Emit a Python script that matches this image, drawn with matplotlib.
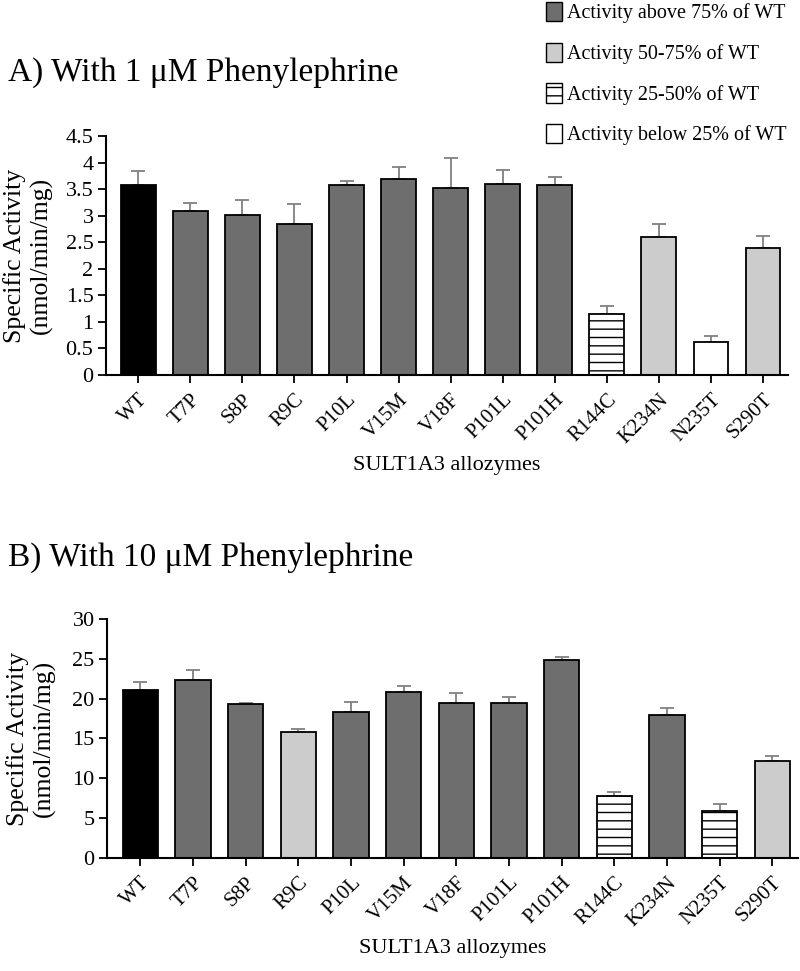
import matplotlib
matplotlib.use("Agg")
import matplotlib.pyplot as plt
from matplotlib.patches import Patch
import numpy as np

plt.rcParams['font.family'] = ['Liberation Serif', 'DejaVu Serif']
plt.rcParams['hatch.linewidth'] = 1.0

categories = ["WT", "T7P", "S8P", "R9C", "P10L", "V15M", "V18F", "P101L",
              "P101H", "R144C", "K234N", "N235T", "S290T"]

vals_a = [3.57, 3.09, 3.02, 2.84, 3.58, 3.69, 3.52, 3.59, 3.58, 1.15, 2.59, 0.62, 2.40]
err_a = [0.27, 0.14, 0.27, 0.37, 0.08, 0.23, 0.56, 0.27, 0.14, 0.14, 0.26, 0.11, 0.21]
class_a = ["wt", "high", "high", "high", "high", "high", "high", "high", "high",
           "q25", "mid", "low", "mid"]

vals_b = [21.1, 22.3, 19.35, 15.8, 18.35, 20.85, 19.4, 19.4, 24.9, 7.8, 17.95, 5.85, 12.2]
err_b = [0.95, 1.3, 0.15, 0.4, 1.25, 0.8, 1.3, 0.85, 0.33, 0.45, 0.85, 0.9, 0.63]
class_b = ["wt", "high", "high", "mid", "high", "high", "high", "high", "high",
           "q25", "high", "q25", "mid"]

legend_labels = ["Activity above 75% of WT", "Activity 50-75% of WT",
                 "Activity 25-50% of WT", "Activity below 25% of WT"]

styles = {
    "wt": dict(facecolor="black", hatch=None),
    "high": dict(facecolor="#6e6e6e", hatch=None),
    "mid": dict(facecolor="#cccccc", hatch=None),
    "q25": dict(facecolor="white", hatch="--"),
    "low": dict(facecolor="white", hatch=None),
}

fig = plt.figure(figsize=(8.0, 9.71), dpi=100)


def panel(rect, vals, errs, classes, ylim, yticks, yticklabels, xlim, ylab_x):
    ax = fig.add_axes(rect)
    x = np.arange(len(categories))
    for i in range(len(categories)):
        st = styles[classes[i]]
        ax.bar(x[i], vals[i], width=0.67, color=st["facecolor"], edgecolor="black",
               linewidth=1.3, hatch=st["hatch"], zorder=2)
    ax.errorbar(x, vals, yerr=[np.zeros(len(vals)), errs], fmt="none",
                ecolor="#808080", elinewidth=1.3, capsize=5, capthick=1.3, zorder=1)
    ax.set_xlim(*xlim)
    ax.set_ylim(*ylim)
    ax.set_yticks(yticks)
    ax.set_yticklabels(yticklabels, fontsize=16)
    ax.set_xticks(x)
    ax.set_xticklabels(categories, rotation=45, ha="right", rotation_mode="anchor",
                       fontsize=15)
    ax.spines["top"].set_visible(False)
    ax.spines["right"].set_visible(False)
    ax.spines["left"].set_linewidth(1.5)
    ax.spines["bottom"].set_linewidth(1.5)
    ax.tick_params(axis="both", direction="out", length=6, width=1.3)
    ax.tick_params(axis="x", pad=5)
    ax.tick_params(axis="y", pad=3)
    ax.set_ylabel("Specific Activity\n(nmol/min/mg)", fontsize=18.5, linespacing=1.2)
    ax.yaxis.set_label_coords(ylab_x, 0.5)
    ax.set_xlabel("SULT1A3 allozymes", fontsize=16, labelpad=6)
    return ax


ax1 = panel([0.1325, 0.6138, 0.8525, 0.2462], vals_a, err_a, class_a, (0, 4.5),
            np.arange(0, 4.51, 0.5),
            ["0", "0.5", "1", "1.5", "2", "2.5", "3", "3.5", "4", "4.5"], (-0.62, 12.48),
            -0.078)
ax2 = panel([0.134, 0.1164, 0.8635, 0.2461], vals_b, err_b, class_b, (0, 30),
            np.arange(0, 31, 5), ["0", "5", "10", "15", "20", "25", "30"], (-0.63, 12.49),
            -0.075)

fig.text(0.01, 0.9248, "A) With 1 \u03bcM Phenylephrine", fontsize=24, va="center", ha="left")
fig.text(0.01, 0.4253, "B) With 10 \u03bcM Phenylephrine", fontsize=24, va="center", ha="left")

handles = [Patch(facecolor="#6e6e6e", edgecolor="black"),
           Patch(facecolor="#cccccc", edgecolor="black"),
           Patch(facecolor="white", edgecolor="black", hatch="--"),
           Patch(facecolor="white", edgecolor="black")]
fig.legend(handles, legend_labels, loc="upper left", bbox_to_anchor=(0.6825, 0.998),
           frameon=False, fontsize=14.5, labelspacing=0.95, handlelength=0.8,
           handleheight=1.1, handletextpad=0.25, borderaxespad=0, borderpad=0)

fig.savefig("out.png", dpi=100)
